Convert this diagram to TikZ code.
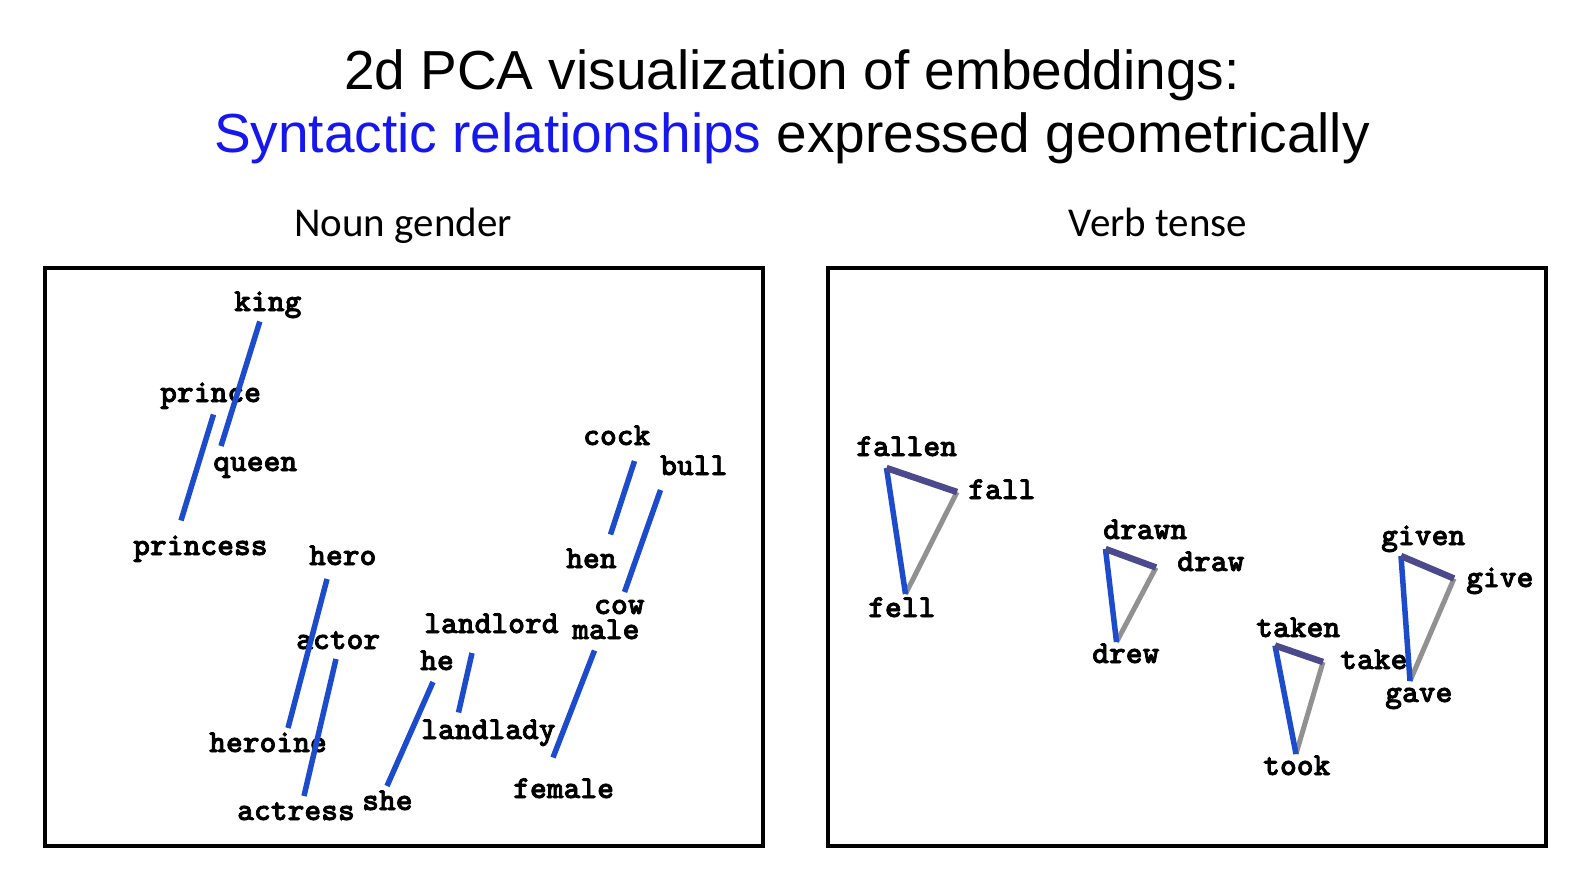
\documentclass[tikz,border=0pt]{standalone}
\usepackage{fontspec}
\setmainfont{Liberation Sans}
\newfontfamily\subfont{Carlito}
\newfontfamily\wordfont{lmmonolt10-bold.otf}[FakeBold=2.2]
\definecolor{lineblue}{RGB}{28,76,204}
\definecolor{linepurple}{RGB}{76,74,140}
\definecolor{linegray}{RGB}{145,145,145}
\definecolor{titleblue}{RGB}{22,22,238}
\begin{document}
\begin{tikzpicture}[x=1pt,y=-1pt,
  word/.style={anchor=base west,inner sep=0pt,font=\wordfont\fontsize{32}{34}\selectfont},
  panel/.style={draw=black,line width=3.5pt},
  bl/.style={draw=lineblue,line width=5.5pt},
  pu/.style={draw=linepurple,line width=6.5pt},
  gr/.style={draw=linegray,line width=5pt},
  ttl/.style={anchor=base,inner sep=0pt,font=\fontsize{55}{60}\selectfont},
  sub/.style={anchor=base,inner sep=0pt,font=\subfont\fontsize{41}{44}\selectfont}]
\useasboundingbox[fill=white] (0,0) rectangle (1590,892);

% titles
\node[ttl] (t1) at (792,89) {2d PCA visualization of embeddings:};
\node[ttl] (t2) at (792,152) {\textcolor{titleblue}{Syntactic relationships} expressed geometrically};
\node[sub] (s1) at (403,236) {Noun gender};
\node[sub] (s2) at (1158,236) {Verb tense};

% panels
\node[panel,inner sep=0pt,minimum width=718pt,minimum height=578pt] (pl) at (404,557) {};
\node[panel,inner sep=0pt,minimum width=718pt,minimum height=578pt] (pr) at (1187,557) {};

% left panel words
\node[word] (king) at (234,311) {king};
\node[word] (prince) at (160,402) {prince};
\node[word] (queen) at (213,471) {queen};
\node[word] (princess) at (133,555) {princess};
\node[word] (hero) at (309,565) {hero};
\node[word] (actor) at (296,649) {actor};
\node[word] (heroine) at (209,752) {heroine};
\node[word] (actress) at (237,820) {actress};
\node[word] (she) at (362,810) {she};
\node[word] (he) at (420,670) {he};
\node[word] (landlord) at (424,633) {landlord};
\node[word] (landlady) at (421,739) {landlady};
\node[word] (male) at (572,639) {male};
\node[word] (cow) at (594,614) {cow};
\node[word] (female) at (513,798) {female};
\node[word] (hen) at (566,568) {hen};
\node[word] (cock) at (583,445) {cock};
\node[word] (bull) at (660,475) {bull};

% left panel line end points
\coordinate (kingP) at (259.8,321.5);
\coordinate (queenP) at (221,446);
\coordinate (princeP) at (213.5,414.5);
\coordinate (princessP) at (181,520.5);
\coordinate (heroP) at (327,579);
\coordinate (heroineP) at (288,728);
\coordinate (actorP) at (336,659);
\coordinate (actressP) at (304,796);
\coordinate (heP) at (433,682);
\coordinate (sheP) at (387,786);
\coordinate (landlordP) at (472,653);
\coordinate (landladyP) at (458.5,712.5);
\coordinate (maleP) at (594.5,650.5);
\coordinate (femaleP) at (553,757.5);
\coordinate (cockP) at (634.5,461);
\coordinate (henP) at (610.5,534.5);
\coordinate (bullP) at (660.5,490);
\coordinate (cowP) at (624.5,592);

\draw[bl] (kingP) -- (queenP);
\draw[bl] (princeP) -- (princessP);
\draw[bl] (heroP) -- (heroineP);
\draw[bl] (actorP) -- (actressP);
\draw[bl] (heP) -- (sheP);
\draw[bl] (landlordP) -- (landladyP);
\draw[bl] (maleP) -- (femaleP);
\draw[bl] (cockP) -- (henP);
\draw[bl] (bullP) -- (cowP);

% right panel words
\node[word] (fallen) at (856,456) {fallen};
\node[word] (fall) at (968,499) {fall};
\node[word] (fell) at (868,617) {fell};
\node[word] (drawn) at (1103,539) {drawn};
\node[word] (draw) at (1177,571) {draw};
\node[word] (drew) at (1092,663) {drew};
\node[word] (taken) at (1256,637) {taken};
\node[word] (take) at (1340,669) {take};
\node[word] (took) at (1263,775) {took};
\node[word] (given) at (1381,545) {given};
\node[word] (give) at (1466,587) {give};
\node[word] (gave) at (1385,702) {gave};

% right panel vertices
\coordinate (fallenP) at (886.5,468);
\coordinate (fallP) at (957,492);
\coordinate (fellP) at (905.5,594);
\coordinate (drawnP) at (1105.5,549);
\coordinate (drawP) at (1156,567.5);
\coordinate (drewP) at (1116.5,642);
\coordinate (takenP) at (1275,645.5);
\coordinate (takeP) at (1323,662);
\coordinate (tookP) at (1296,754);
\coordinate (givenP) at (1401,556);
\coordinate (giveP) at (1454,578.5);
\coordinate (gaveP) at (1410,681);

\draw[gr] (fallP) -- (fellP);
\draw[bl] (fallenP) -- (fellP);
\draw[pu] (fallenP) -- (fallP);
\draw[gr] (drawP) -- (drewP);
\draw[bl] (drawnP) -- (drewP);
\draw[pu] (drawnP) -- (drawP);
\draw[gr] (takeP) -- (tookP);
\draw[bl] (takenP) -- (tookP);
\draw[pu] (takenP) -- (takeP);
\draw[gr] (giveP) -- (gaveP);
\draw[bl] (givenP) -- (gaveP);
\draw[pu] (givenP) -- (giveP);
\end{tikzpicture}
\end{document}
